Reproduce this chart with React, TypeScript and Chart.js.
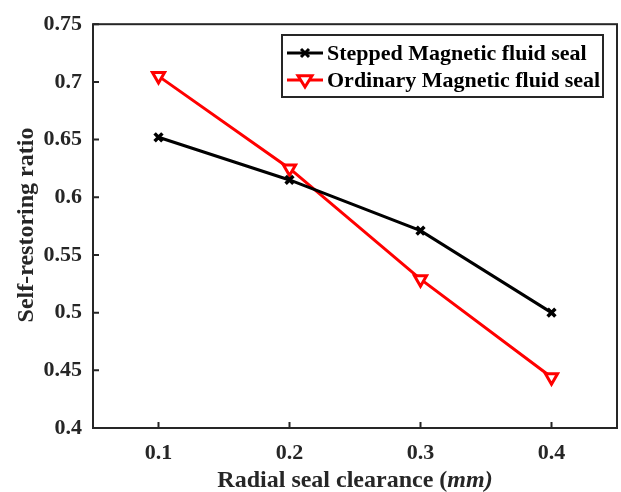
import React, { useEffect, useRef } from "react";
import { Chart, registerables } from "chart.js";

Chart.register(...registerables);

const clearance = [0.1, 0.2, 0.3, 0.4];
const stepped = [0.652, 0.615, 0.571, 0.5];
const ordinary = [0.705, 0.625, 0.529, 0.444];
const xTicks = [0.1, 0.2, 0.3, 0.4];
const yTicks = [0.4, 0.45, 0.5, 0.55, 0.6, 0.65, 0.7, 0.75];
const seriesNames = ["Stepped Magnetic fluid seal", "Ordinary Magnetic fluid seal"];
const xTitleParts = ["Radial seal clearance (", "mm", ")"];
const yTitle = "Self-restoring ratio";

const FONT = '"Liberation Serif", "Times New Roman", serif';
const AXIS = "#262626";

function drawCross(ctx: CanvasRenderingContext2D, x: number, y: number) {
  ctx.save();
  ctx.strokeStyle = "#000";
  ctx.lineWidth = 3;
  const r = 4;
  ctx.beginPath();
  ctx.moveTo(x - r, y - r);
  ctx.lineTo(x + r, y + r);
  ctx.moveTo(x + r, y - r);
  ctx.lineTo(x - r, y + r);
  ctx.stroke();
  ctx.restore();
}

function drawTri(ctx: CanvasRenderingContext2D, x: number, y: number) {
  ctx.save();
  ctx.strokeStyle = "#ff0000";
  ctx.fillStyle = "#ffffff";
  ctx.lineWidth = 3;
  const r = 7;
  ctx.beginPath();
  ctx.moveTo(x - r, y - r * 0.6);
  ctx.lineTo(x + r, y - r * 0.6);
  ctx.lineTo(x, y + r);
  ctx.closePath();
  ctx.fill();
  ctx.stroke();
  ctx.restore();
}

const framePlugin = {
  id: "frame",
  afterDatasetsDraw(chart: any) {
    const { ctx, chartArea, scales } = chart;
    const { left, right, top, bottom } = chartArea;
    ctx.save();
    ctx.strokeStyle = AXIS;
    ctx.lineWidth = 2;
    ctx.strokeRect(left, top, right - left, bottom - top);
    ctx.beginPath();
    xTicks.forEach((v) => {
      const px = scales.x.getPixelForValue(v);
      ctx.moveTo(px, bottom);
      ctx.lineTo(px, bottom - 6);
    });
    yTicks.forEach((v) => {
      const py = scales.y.getPixelForValue(v);
      ctx.moveTo(left, py);
      ctx.lineTo(left + 6, py);
    });
    ctx.stroke();

    // x title with italic unit
    ctx.fillStyle = AXIS;
    ctx.textBaseline = "middle";
    const fonts = [`bold 24px ${FONT}`, `italic bold 24px ${FONT}`, `italic bold 24px ${FONT}`];
    let total = 0;
    const widths = xTitleParts.map((t, i) => {
      ctx.font = fonts[i];
      const w = ctx.measureText(t).width;
      total += w;
      return w;
    });
    let cx = (left + right) / 2 - total / 2;
    const ty = 481;
    xTitleParts.forEach((t, i) => {
      ctx.font = fonts[i];
      ctx.textAlign = "left";
      ctx.fillText(t, cx, ty);
      cx += widths[i];
    });

    // y title
    ctx.save();
    ctx.translate(27, 225);
    ctx.rotate(-Math.PI / 2);
    ctx.font = `bold 24px ${FONT}`;
    ctx.textAlign = "center";
    ctx.fillText(yTitle, 0, 0);
    ctx.restore();

    // legend
    const lx = 282, ly = 35, lw = 321, lh = 62;
    ctx.fillStyle = "#ffffff";
    ctx.fillRect(lx, ly, lw, lh);
    ctx.strokeStyle = AXIS;
    ctx.lineWidth = 2;
    ctx.strokeRect(lx, ly, lw, lh);
    const rows = [53, 80];
    const colors = ["#000000", "#ff0000"];
    rows.forEach((ry, i) => {
      ctx.strokeStyle = colors[i];
      ctx.lineWidth = 3;
      ctx.beginPath();
      ctx.moveTo(lx + 5, ry);
      ctx.lineTo(lx + 41, ry);
      ctx.stroke();
      if (i === 0) drawCross(ctx, lx + 23, ry);
      else drawTri(ctx, lx + 23, ry);
      ctx.fillStyle = "#000";
      ctx.font = `bold 22px ${FONT}`;
      ctx.textAlign = "left";
      ctx.textBaseline = "middle";
      ctx.fillText(seriesNames[i], lx + 45, ry + 1);
    });
    ctx.restore();
  },
};

export default function App() {
  const ref = useRef<HTMLCanvasElement>(null);
  useEffect(() => {
    if (!ref.current) return;
    const tickFont = { family: FONT, size: 22, weight: "bold" as const };
    const chart = new Chart(ref.current, {
      type: "line",
      data: {
        datasets: [
          {
            label: seriesNames[0],
            data: clearance.map((x, i) => ({ x, y: stepped[i] })),
            borderColor: "#000000",
            backgroundColor: "#000000",
            borderWidth: 3,
            pointStyle: "crossRot",
            pointRadius: 5.5,
            pointBorderWidth: 3.5,
            tension: 0,
          },
          {
            label: seriesNames[1],
            data: clearance.map((x, i) => ({ x, y: ordinary[i] })),
            borderColor: "#ff0000",
            backgroundColor: "#ffffff",
            borderWidth: 3,
            pointStyle: "triangle",
            pointRotation: 180,
            pointRadius: 7,
            pointBorderWidth: 3,
            tension: 0,
          },
        ],
      },
      options: {
        responsive: false,
        animation: false,
        devicePixelRatio: 1,
        layout: { autoPadding: false, padding: { top: 21, right: 4, left: 0, bottom: 0 } },
        plugins: { legend: { display: false }, tooltip: { enabled: false } },
        scales: {
          x: {
            type: "linear",
            min: 0.05,
            max: 0.45,
            afterBuildTicks: (s: any) => {
              s.ticks = xTicks.map((v) => ({ value: v }));
            },
            afterFit: (s: any) => {
              s.height = 64;
              s.paddingLeft = 0;
              s.paddingRight = 0;
            },
            ticks: {
              font: tickFont,
              color: AXIS,
              padding: 12,
              maxRotation: 0,
              callback: (v: any) => String(v),
            },
            grid: { display: false, drawTicks: false },
            border: { display: false },
          },
          y: {
            type: "linear",
            min: 0.4,
            max: 0.75,
            afterBuildTicks: (s: any) => {
              s.ticks = yTicks.map((v) => ({ value: v }));
            },
            afterFit: (s: any) => {
              s.width = 93;
            },
            ticks: {
              font: tickFont,
              color: AXIS,
              padding: 11,
              callback: (v: any) => String(v),
            },
            grid: { display: false, drawTicks: false },
            border: { display: false },
          },
        },
      },
      plugins: [framePlugin],
    });
    return () => chart.destroy();
  }, []);
  return (
    <div style={{ position: "absolute", left: 0, top: 0, width: 621, height: 492, background: "#fff" }}>
      <canvas ref={ref} width={621} height={492} style={{ width: 621, height: 492 }} />
    </div>
  );
}
